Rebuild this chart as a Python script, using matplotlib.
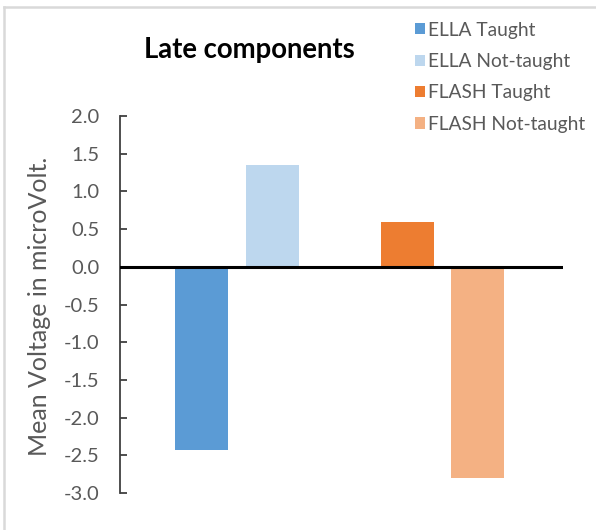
import matplotlib
matplotlib.use("Agg")
import matplotlib.pyplot as plt
from matplotlib.lines import Line2D

plt.rcParams["font.family"] = ["Lato", "DejaVu Sans"]

# mean late-component voltages per condition
series = ["ELLA Taught", "ELLA Not-taught", "FLASH Taught", "FLASH Not-taught"]
values = [-2.43, 1.35, 0.60, -2.80]
colors = ["#5B9BD5", "#BDD7EE", "#ED7D31", "#F4B183"]
yticks = [2.0, 1.5, 1.0, 0.5, 0.0, -0.5, -1.0, -1.5, -2.0, -2.5, -3.0]

# two groups (ELLA, FLASH), two bars each
group_centers = [1.66, 4.57]
offset = 0.5
width = 0.75
xpos = [group_centers[0] - offset, group_centers[0] + offset,
        group_centers[1] - offset, group_centers[1] + offset]

fig = plt.figure(figsize=(5.96, 5.30), dpi=100)
ax = fig.add_axes([0.2013, 0.0698, 0.7433, 0.7113])

for x, v, c, lab in zip(xpos, values, colors, series):
    ax.bar(x, v, width=width, color=c, label=lab, zorder=2)

ax.axhline(0, color="black", lw=2.2, zorder=3)
ax.set_xlim(0, 6.28)
ax.set_ylim(-3.0, 2.0)
ax.set_yticks(yticks)
ax.set_yticklabels([f"{t:.1f}" for t in yticks])
ax.set_xticks([])

for s in ["top", "right", "bottom"]:
    ax.spines[s].set_visible(False)
ax.spines["left"].set_color("#404040")
ax.spines["left"].set_linewidth(1.3)
ax.tick_params(axis="y", direction="in", length=5, width=1.3, color="#404040",
               labelsize=14.5, labelcolor="#595959", pad=15)

# y label placed by hand, left of the tick labels
fig.text(40 / 596, 1 - 306 / 530, "Mean Voltage in microVolt.", rotation=90,
         fontsize=18, color="#595959", ha="center", va="center")

fig.text(249 / 596, 1 - 57.7 / 530, "Late components", fontsize=19.8,
         fontweight="bold", ha="center", va="baseline", color="black")

fig.legend(loc="upper left", bbox_to_anchor=(0.6834, 0.9736), frameon=False,
           fontsize=13.8, labelcolor="#595959", handlelength=0.52, handleheight=0.52,
           handletextpad=0.16, labelspacing=0.75, borderaxespad=0)

# light frame edges along the top and left
fig.add_artist(Line2D([4 / 596, 1], [1 - 7 / 530, 1 - 7 / 530],
                      transform=fig.transFigure, color="#d9d9d9", lw=1.8))
fig.add_artist(Line2D([4 / 596, 4 / 596], [0, 1 - 7 / 530],
                      transform=fig.transFigure, color="#d9d9d9", lw=1.8))

fig.savefig("out.png", dpi=100)
